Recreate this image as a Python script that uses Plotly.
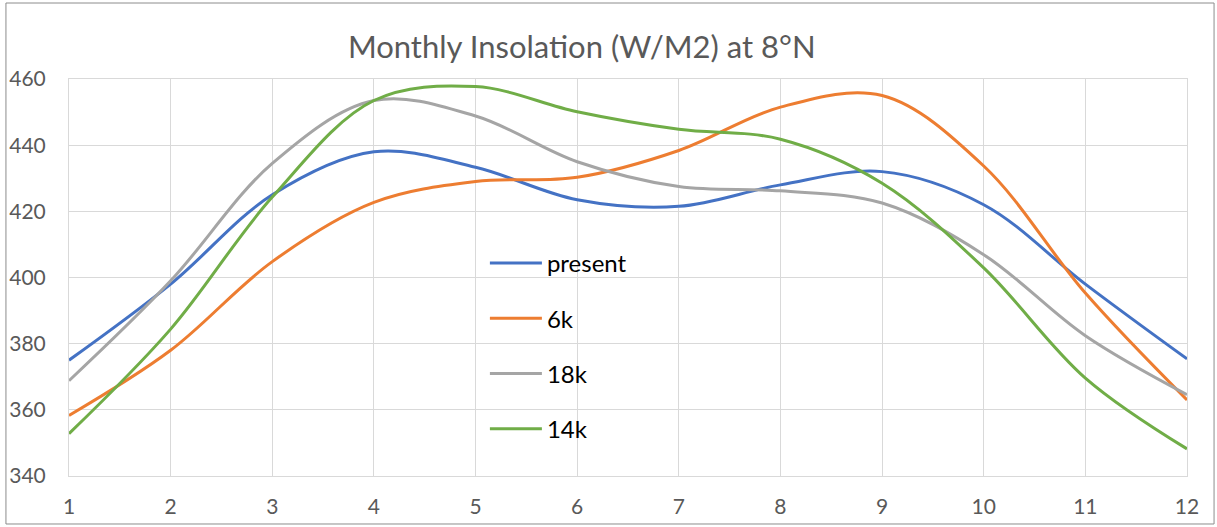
import plotly.graph_objects as go

# Months of the year
months = [1, 2, 3, 4, 5, 6, 7, 8, 9, 10, 11, 12]

# Monthly insolation (W/m2) at 8 degrees N for each epoch
present = [375, 398, 425, 438, 433.3, 423.5, 421.5, 428, 432, 422, 398, 375.4]
k6 = [358.3, 378, 404.8, 422.7, 429, 430.3, 438.4, 451.5, 455, 433.7, 395.3, 363]
k18 = [368.8, 399, 434.5, 453.5, 448.8, 435, 427.5, 426.2, 422.5, 406.9, 382.4, 364.6]
k14 = [352.8, 384.4, 424.3, 453.5, 457.7, 450.1, 444.8, 441.8, 428.5, 402.9, 369.6, 348.2]

series = [
    ("present", present, "#4472C4"),
    ("6k", k6, "#ED7D31"),
    ("18k", k18, "#A5A5A5"),
    ("14k", k14, "#70AD47"),
]

fig = go.Figure()
for i, (name, vals, color) in enumerate(series):
    fig.add_trace(go.Scatter(
        x=months, y=vals, name=name, mode="lines",
        line=dict(color=color, width=3, shape="spline", smoothing=1.0),
        legendgroup=f"g{i}",
    ))

font_family = "Lato, 'Open Sans', sans-serif"
grid = "#D9D9D9"

fig.update_layout(
    width=1217, height=527,
    margin=dict(l=69, r=30, t=79, b=51, autoexpand=False),
    paper_bgcolor="white", plot_bgcolor="white",
    title=dict(
        text="Monthly Insolation (W/M2) at 8°N",
        x=0.478, xanchor="center", xref="container",
        y=0.91, yanchor="middle", yref="container",
        font=dict(family=font_family, size=31, color="#595959"),
    ),
    xaxis=dict(
        range=[1, 12], tickmode="array", tickvals=months, automargin=False,
        showgrid=True, gridcolor=grid, gridwidth=1,
        showline=True, linecolor=grid, linewidth=1, mirror=True,
        zeroline=False, ticks="", ticklen=0, ticklabelstandoff=12,
        tickfont=dict(family=font_family, size=21, color="#595959"),
    ),
    yaxis=dict(
        range=[340, 460], dtick=20, automargin=False,
        showgrid=True, gridcolor=grid, gridwidth=1,
        showline=True, linecolor=grid, linewidth=1, mirror=True,
        zeroline=False, ticks="", ticklen=0, ticklabelstandoff=18,
        tickfont=dict(family=font_family, size=21, color="#595959"),
    ),
    legend=dict(
        x=0.372, y=0.592, xanchor="left", yanchor="top",
        bgcolor="rgba(0,0,0,0)", tracegroupgap=21, itemwidth=52,
        font=dict(family=font_family, size=24, color="#000000"),
    ),
    showlegend=True,
    shapes=[dict(
        type="rect", xref="paper", yref="paper",
        x0=-0.0564, x1=1.0242, y0=-0.1209, y1=1.1914,
        line=dict(color="#8C8C8C", width=1), fillcolor="rgba(0,0,0,0)",
        layer="below",
    )],
)

fig.write_html("out.html")
